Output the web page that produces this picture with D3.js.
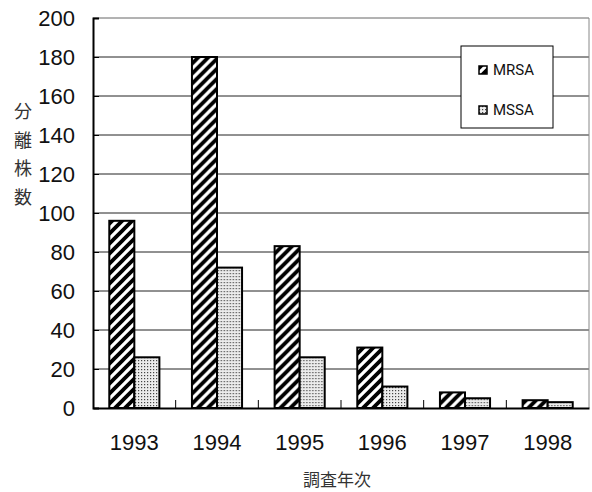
<!DOCTYPE html>
<html>
<head>
<meta charset="utf-8">
<script src="https://cdn.jsdelivr.net/npm/d3@7"></script>
<style>
  body { margin: 0; background: #fff; }
  .num { font-family: "Liberation Sans Narrow", "Liberation Sans", sans-serif; font-size: 22px; fill: #111; }
  .jp { font-family: "Noto Sans CJK JP", sans-serif; font-size: 17px; fill: #333; }
</style>
</head>
<body>
<svg width="592" height="492"></svg>
<script>
// Data: isolates per survey year
const years = ["1993", "1994", "1995", "1996", "1997", "1998"];
const series = ["MRSA", "MSSA"];
const mrsa = [96, 180, 83, 31, 8, 4];
const mssa = [26, 72, 26, 11, 5, 3];
const yTicks = [0, 20, 40, 60, 80, 100, 120, 140, 160, 180, 200];

const svg = d3.select("svg");
const plotL = 93, plotR = 589, plotT = 18, plotB = 408;

const x = d3.scaleBand().domain(years).range([plotL, plotR]).padding(0);
const x1 = d3.scaleBand().domain(series).range([0, x.bandwidth()]).paddingInner(0).paddingOuter(0.65);
const y = d3.scaleLinear().domain([0, 200]).range([plotB, plotT]);

// Patterns
const defs = svg.append("defs");
const stripe = defs.append("pattern").attr("id", "stripe")
    .attr("patternUnits", "userSpaceOnUse").attr("width", 10).attr("height", 10);
stripe.append("rect").attr("width", 10).attr("height", 10).attr("fill", "#fff");
stripe.append("path").attr("d", "M-3,3 l6,-6 M0,10 l10,-10 M7,13 l6,-6")
    .attr("stroke", "#000").attr("stroke-width", 3.8);
const dots = defs.append("pattern").attr("id", "dots")
    .attr("patternUnits", "userSpaceOnUse").attr("width", 3).attr("height", 3);
dots.append("rect").attr("width", 3).attr("height", 3).attr("fill", "#ececec");
dots.append("rect").attr("width", 1.2).attr("height", 1.2).attr("fill", "#444");
const fills = { MRSA: "url(#stripe)", MSSA: "url(#dots)" };

// Grid lines
svg.append("g").selectAll("line").data(yTicks.filter(d => d > 0)).join("line")
    .attr("x1", plotL).attr("x2", plotR)
    .attr("y1", d => y(d)).attr("y2", d => y(d))
    .attr("stroke", d => d === 200 ? "#666" : "#222").attr("stroke-width", 1);
// right border
svg.append("line").attr("x1", plotR).attr("x2", plotR).attr("y1", plotT).attr("y2", plotB)
    .attr("stroke", "#888");

// Bars
const rows = years.map((yr, i) => ({ yr, MRSA: mrsa[i], MSSA: mssa[i] }));
const grp = svg.append("g").selectAll("g").data(rows).join("g")
    .attr("transform", d => `translate(${x(d.yr)},0)`);
grp.selectAll("rect").data(d => series.map(s => ({ s, v: d[s] }))).join("rect")
    .attr("x", d => x1(d.s))
    .attr("y", d => y(d.v))
    .attr("width", x1.bandwidth())
    .attr("height", d => y(0) - y(d.v))
    .attr("fill", d => fills[d.s])
    .attr("stroke", "#000").attr("stroke-width", 2);

// Y axis
const yAxis = svg.append("g").attr("transform", `translate(${plotL},0)`)
    .call(d3.axisLeft(y).tickValues(yTicks).tickSize(-6).tickPadding(18));
yAxis.select(".domain").attr("stroke", "#000").attr("stroke-width", 2);
yAxis.selectAll("line").attr("stroke", "#000");
yAxis.selectAll("text").attr("class", "num").attr("font-size", null).attr("font-family", null);

// X axis
const xAxis = svg.append("g").attr("transform", `translate(0,${plotB})`)
    .call(d3.axisBottom(x).tickSize(0).tickPadding(26));
xAxis.select(".domain").attr("stroke", "#000").attr("stroke-width", 2);
xAxis.selectAll("text").attr("class", "num").attr("font-size", null).attr("font-family", null);
// boundary ticks pointing up
svg.append("g").selectAll("line").data(years.slice(1)).join("line")
    .attr("x1", d => x(d)).attr("x2", d => x(d))
    .attr("y1", plotB).attr("y2", plotB - 8)
    .attr("stroke", "#000");

// Axis titles
const ylab = ["分", "離", "株", "数"];
svg.append("g").selectAll("text").data(ylab).join("text")
    .attr("class", "jp").style("font-size", "18px").attr("x", 23).attr("y", (d, i) => 118 + i * 28.5)
    .attr("text-anchor", "middle").text(d => d);
svg.append("text").attr("class", "jp").attr("x", (plotL + plotR) / 2 - 4).attr("y", 486)
    .attr("text-anchor", "middle").text("調査年次");

// Legend
const lg = svg.append("g").attr("transform", "translate(461,46)");
lg.append("rect").attr("width", 92).attr("height", 82).attr("fill", "#fff").attr("stroke", "#000");
series.forEach((s, i) => {
    lg.append("rect").attr("x", 18).attr("y", 20 + i * 40).attr("width", 8).attr("height", 8)
        .attr("fill", fills[s]).attr("stroke", "#000").attr("stroke-width", 1.5);
    lg.append("text").attr("x", 32).attr("y", 29 + i * 40)
        .style("font-family", "Roboto, sans-serif").style("font-size", "15px").attr("fill", "#111")
        .text(s);
});
</script>
</body>
</html>
